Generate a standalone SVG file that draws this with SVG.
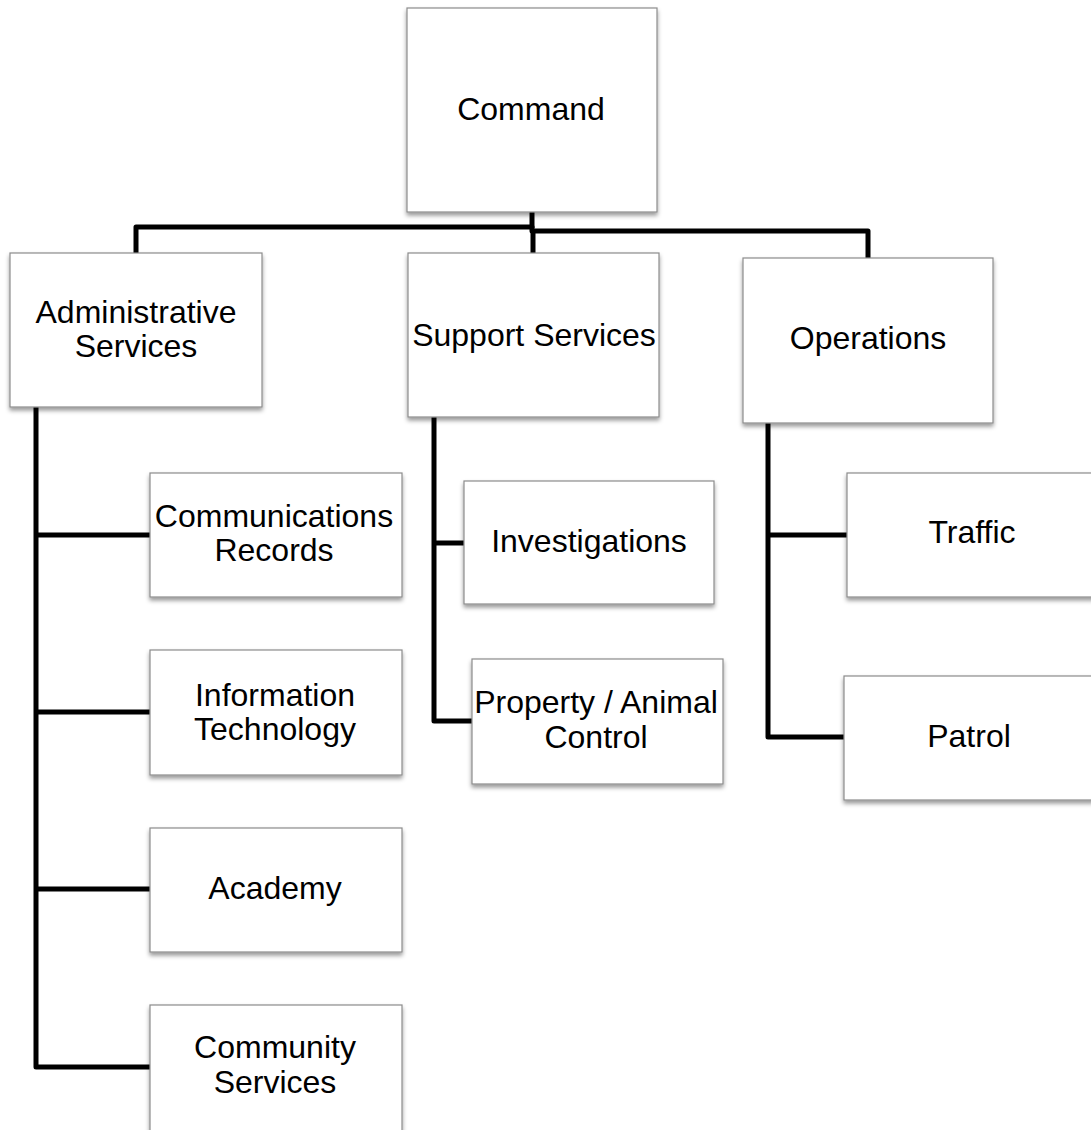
<svg xmlns="http://www.w3.org/2000/svg" width="1091" height="1130" viewBox="0 0 1091 1130">
  <style>
    .box { fill: #ffffff; stroke: #8c8c8c; stroke-width: 1.2; filter: url(#shadow); }
    .label { font-family: "Liberation Sans", Arial, sans-serif; font-size: 32px; fill: #000000; text-anchor: middle; }
    .link { fill: none; stroke: #000000; stroke-width: 5; stroke-linejoin: round; }
  </style>
  <defs>
    <filter id="shadow" x="-10%" y="-10%" width="120%" height="125%">
      <feDropShadow dx="0" dy="3" stdDeviation="2" flood-color="#000000" flood-opacity="0.4"/>
    </filter>
  </defs>
  <rect width="1091" height="1130" fill="#ffffff"/>

  <!-- connectors -->
  <g id="connectors">
    <!-- top level -->
    <path class="link" d="M532 212 V228"/>
    <path class="link" d="M136 253 V227 H532 V231 H868 V258"/>
    <path class="link" d="M533 229 V253"/>
    <!-- Administrative Services children -->
    <path class="link" d="M36 407 V1067 H150"/>
    <path class="link" d="M36 535 H150"/>
    <path class="link" d="M36 712 H150"/>
    <path class="link" d="M36 889 H150"/>
    <!-- Support Services children -->
    <path class="link" d="M434 417 V721 H472"/>
    <path class="link" d="M434 543 H464"/>
    <!-- Operations children -->
    <path class="link" d="M768 423 V737 H844"/>
    <path class="link" d="M768 535 H847"/>
  </g>

  <g id="command">
    <rect class="box" x="407" y="8" width="250" height="204"/>
    <text class="label" x="531" y="120">Command</text>
  </g>

  <g id="administrative-services">
    <rect class="box" x="10" y="253" width="252" height="154"/>
    <text class="label" x="136" y="323">Administrative</text>
    <text class="label" x="136" y="357">Services</text>
  </g>

  <g id="support-services">
    <rect class="box" x="408" y="253" width="251" height="164"/>
    <text class="label" x="534" y="346">Support Services</text>
  </g>

  <g id="operations">
    <rect class="box" x="743" y="258" width="250" height="165"/>
    <text class="label" x="868" y="349">Operations</text>
  </g>

  <g id="communications-records">
    <rect class="box" x="150" y="473" width="252" height="124"/>
    <text class="label" x="274" y="527">Communications</text>
    <text class="label" x="274" y="561">Records</text>
  </g>

  <g id="information-technology">
    <rect class="box" x="150" y="650" width="252" height="125"/>
    <text class="label" x="275" y="706">Information</text>
    <text class="label" x="275" y="740">Technology</text>
  </g>

  <g id="academy">
    <rect class="box" x="150" y="828" width="252" height="124"/>
    <text class="label" x="275" y="899">Academy</text>
  </g>

  <g id="community-services">
    <rect class="box" x="150" y="1005" width="252" height="130"/>
    <text class="label" x="275" y="1058">Community</text>
    <text class="label" x="275" y="1093">Services</text>
  </g>

  <g id="investigations">
    <rect class="box" x="464" y="481" width="250" height="123"/>
    <text class="label" x="589" y="552">Investigations</text>
  </g>

  <g id="property-animal-control">
    <rect class="box" x="472" y="659" width="251" height="125"/>
    <text class="label" x="596" y="713">Property / Animal</text>
    <text class="label" x="596" y="748">Control</text>
  </g>

  <g id="traffic">
    <rect class="box" x="847" y="473" width="250" height="124"/>
    <text class="label" x="972" y="543">Traffic</text>
  </g>

  <g id="patrol">
    <rect class="box" x="844" y="676" width="250" height="124"/>
    <text class="label" x="969" y="747">Patrol</text>
  </g>
</svg>
